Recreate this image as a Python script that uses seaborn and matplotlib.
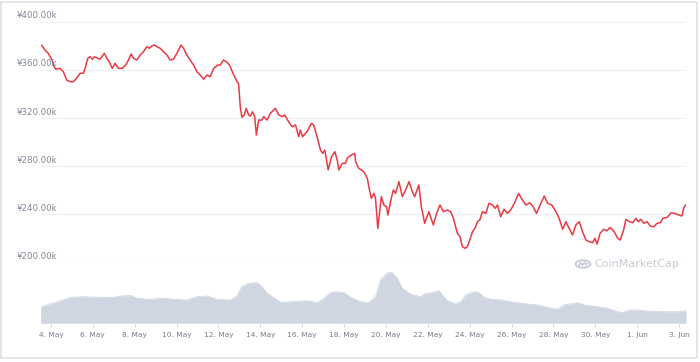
import pandas as pd
import seaborn as sns
import matplotlib.pyplot as plt
from matplotlib import transforms
from matplotlib.patches import Circle, Rectangle
from matplotlib.lines import Line2D

# price series: days after 4 May 2021 and price in thousand yen
price_day = [-0.45, -0.29, -0.13, 0.0, 0.06, 0.11, 0.23, 0.43, 0.59, 0.75, 0.91, 1.07,
             1.15, 1.28, 1.39, 1.55, 1.63, 1.76, 1.87, 1.98, 2.07, 2.23, 2.34, 2.43,
             2.55, 2.67, 2.78, 2.93, 3.06, 3.22, 3.41, 3.57, 3.70, 3.83, 3.94, 4.10,
             4.26, 4.42, 4.58, 4.70, 4.82, 4.93, 5.06, 5.22, 5.37, 5.54, 5.69, 5.85,
             6.01, 6.14, 6.21, 6.33, 6.49, 6.65, 6.81, 6.97, 7.13, 7.29, 7.45, 7.61,
             7.77, 7.96, 8.09, 8.24, 8.37, 8.53, 8.69, 8.89, 8.96, 9.04, 9.12, 9.23,
             9.33, 9.44, 9.52, 9.63, 9.73, 9.81, 9.92, 10.08, 10.16, 10.32, 10.48,
             10.72, 10.88, 11.04, 11.16, 11.35, 11.52, 11.68, 11.83, 11.91, 12.02,
             12.23, 12.44, 12.55, 12.71, 12.87, 12.98, 13.08, 13.24, 13.40, 13.56,
             13.67, 13.75, 13.91, 14.07, 14.15, 14.35, 14.51, 14.55, 14.70, 14.94,
             15.11, 15.18, 15.30, 15.42, 15.50, 15.61, 15.78, 15.90, 16.03, 16.09,
             16.22, 16.35, 16.46, 16.62, 16.78, 16.94, 17.10, 17.26, 17.37, 17.57,
             17.69, 17.85, 18.05, 18.26, 18.42, 18.58, 18.74, 18.93, 19.09, 19.22,
             19.41, 19.54, 19.65, 19.78, 19.89, 20.0, 20.13, 20.25, 20.37, 20.48,
             20.61, 20.77, 20.92, 21.09, 21.21, 21.33, 21.48, 21.64, 21.80, 21.96,
             22.17, 22.33, 22.52, 22.68, 22.87, 23.03, 23.19, 23.40, 23.56, 23.72,
             23.92, 24.12, 24.27, 24.44, 24.59, 24.75, 24.91, 25.07, 25.23, 25.39,
             25.55, 25.71, 25.87, 25.98, 26.08, 26.23, 26.40, 26.56, 26.71, 26.90,
             27.07, 27.19, 27.35, 27.46, 27.62, 27.79, 27.94, 28.05, 28.18, 28.31,
             28.47, 28.63, 28.79, 28.95, 29.11, 29.22, 29.43, 29.62, 29.78, 30.01,
             30.13, 30.23, 30.38]
price_k = [380.5, 376.4, 373.6, 369.5, 368.1, 363.9, 360.4, 361.2, 358.4, 351.5, 350.1, 350.1,
           351.5, 354.2, 357.1, 357.1, 361.2, 369.5, 370.8, 368.7, 370.8, 369.5, 368.7, 370.8,
           373.6, 369.5, 366.7, 361.2, 365.3, 361.2, 361.2, 363.9, 368.1, 373.1, 369.5, 368.1,
           372.2, 375.0, 379.1, 377.8, 379.7, 380.5, 379.1, 377.8, 375.0, 372.2, 368.1, 368.7,
           373.6, 377.8, 380.5, 377.8, 372.2, 368.1, 363.9, 358.4, 355.6, 352.1, 355.6, 354.2,
           361.2, 363.9, 363.9, 368.1, 366.7, 363.9, 357.1, 350.1, 348.8, 329.4, 320.6, 322.5,
           328.0, 322.5, 321.6, 325.2, 321.1, 305.9, 318.3, 318.3, 321.1, 318.3, 323.9,
           328.0, 322.5, 321.1, 322.5, 316.9, 312.8, 314.2, 304.5, 310.0, 304.5,
           308.6, 315.6, 314.2, 304.5, 293.4, 290.7, 293.4, 276.9, 287.9, 292.0,
           285.2, 276.9, 282.4, 282.4, 286.6, 289.3, 290.7, 283.7, 278.3, 275.5,
           270.0, 263.0, 253.4, 257.5, 253.4, 228.5, 254.7, 247.8, 246.4, 239.5,
           250.6, 260.3, 257.5, 267.2, 254.7, 260.3, 267.2, 258.9, 254.7, 264.4,
           246.4, 232.7, 242.3, 231.3, 240.9, 247.8, 242.3, 243.7, 242.3, 236.8,
           224.4, 221.5, 213.3, 211.9, 213.3, 218.8, 225.7, 228.5, 234.0, 235.4,
           242.3, 240.9, 249.3, 247.8, 245.1, 247.8, 238.1, 244.3, 240.9, 243.7,
           250.6, 257.5, 252.0, 247.8, 249.7, 246.4, 240.9, 249.3, 255.3, 249.3,
           247.8, 242.3, 236.8, 227.7, 234.0, 228.5, 223.0, 231.3, 234.0, 225.7,
           218.8, 217.4, 216.6, 220.2, 215.5, 224.4, 227.7, 226.5, 229.3, 225.7,
           220.2, 218.8, 227.1, 236.0, 234.0, 233.2, 236.8, 234.0, 236.0, 232.7,
           234.0, 230.4, 229.8, 232.7, 233.2, 236.8, 237.6, 241.4, 240.9, 239.5,
           238.7, 245.9, 249.3]

# volume (relative units)
vol_day = [-0.49, -0.05, 0.35, 0.91, 1.55, 2.34, 2.98, 3.46, 3.86, 4.10, 4.74, 5.37,
           5.85, 6.49, 6.97, 7.45, 7.93, 8.56, 8.89, 9.12, 9.44, 9.84, 10.08, 10.32,
           10.80, 10.96, 11.59, 12.23, 12.71, 13.03, 13.35, 13.67, 13.99, 14.31, 14.78,
           15.18, 15.50, 15.74, 16.06, 16.30, 16.54, 16.78, 17.18, 17.66, 17.89, 18.22,
           18.53, 18.69, 18.93, 19.33, 19.57, 19.81, 20.21, 20.45, 20.68, 21.00, 21.48,
           21.96, 22.44, 23.24, 23.88, 24.20, 24.51, 25.15, 25.47, 26.11, 26.59, 27.07,
           27.31, 27.62, 28.02, 28.50, 29.14, 29.78, 30.10, 30.33]
volume = [16.0, 19.3, 21.6, 26.0, 26.6, 26.0, 26.0, 27.6, 27.6, 25.0, 24.0, 25.0,
          24.0, 23.3, 26.6, 27.3, 24.0, 23.3, 27.3, 36.6, 40.0, 40.6, 36.6, 30.0,
          23.3, 21.0, 21.6, 22.6, 20.6, 25.0, 30.6, 31.6, 30.6, 26.0, 21.6,
          20.6, 26.6, 43.3, 50.6, 50.6, 45.0, 35.0, 29.0, 26.6, 30.0, 30.6,
          32.6, 28.3, 22.6, 19.3, 21.6, 28.3, 31.6, 30.6, 26.0, 24.0, 23.3,
          21.6, 20.0, 18.3, 15.0, 14.0, 18.3, 20.6, 18.3, 16.6, 15.0, 11.6,
          10.6, 13.3, 13.3, 12.3, 11.6, 11.6, 11.6, 12.6]

y_ticks = [200, 240, 280, 320, 360, 400]

start = pd.Timestamp("2021-05-04")
price_time = start + pd.to_timedelta(price_day, unit="D")
vol_time = start + pd.to_timedelta(vol_day, unit="D")
x_ticks = pd.date_range("2021-05-04", "2021-06-03", freq="2D")

sns.set_style("white")
plt.rcParams["font.family"] = ["DejaVu Sans"]

W, H = 700, 362
fig = plt.figure(figsize=(7, 3.62), dpi=100)
left, right = 40.7, 686
ax = fig.add_axes([left / W, 1 - 262.7 / H, (right - left) / W, (262.7 - 21.5) / H])
axv = fig.add_axes([left / W, 1 - 323.3 / H, (right - left) / W, 60.6 / H])

xlim = (vol_time[0], vol_time[-1])

# price line
sns.lineplot(x=price_time, y=price_k, ax=ax, color="#ea3943", linewidth=1.1)
ax.set_xlim(*xlim)
ax.set_ylim(200, 400)
ax.set_yticks(y_ticks)
ax.yaxis.grid(True, color="#eef0f3", linewidth=0.8)
ax.set_axisbelow(True)
ax.tick_params(left=False, bottom=False, labelleft=False, labelbottom=False)
ax.set_xlabel("")
ax.set_ylabel("")
for s in ax.spines.values():
    s.set_visible(False)

lab_tr = transforms.blended_transform_factory(fig.transFigure, ax.transData)
for v in y_ticks:
    ax.annotate(f"¥{v:.2f}k", xy=(17 / W, v), xycoords=lab_tr, xytext=(0, 1),
                textcoords="offset points", va="bottom", ha="left",
                fontsize=6.2, color="#7f8795", annotation_clip=False)

# volume area
sns.lineplot(x=vol_time, y=volume, ax=axv, color="#cfd5e1", linewidth=0.6)
axv.fill_between(vol_time, volume, color="#cfd5e1", linewidth=0)
axv.set_xlim(*xlim)
axv.set_ylim(0, 60.6)
axv.set_xticks(x_ticks)
axv.set_xticklabels([f"{d.day}. {d.strftime('%b')}" for d in x_ticks])
axv.tick_params(axis="x", bottom=True, length=3, width=0.6, color="#ccd1da",
                pad=3, labelsize=5.3, labelcolor="#737b8a")
axv.tick_params(left=False, labelleft=False)
axv.set_xlabel("")
axv.set_ylabel("")
for k, s in axv.spines.items():
    s.set_visible(k == "bottom")
axv.spines["bottom"].set_color("#dde1e8")
axv.spines["bottom"].set_linewidth(0.6)
axv.patch.set_alpha(0)

# watermark
wm = "#c6cbd4"
cx, cy = 583 / W, 1 - 264 / H
fig.patches.append(Circle((cx, cy), 0.0105, transform=fig.transFigure,
                          fill=False, edgecolor=wm, linewidth=1.3))
wave_x = [-4.5, -2.5, -0.5, 1.5, 3.0, 4.5]
wave_y = [-2.5, 1.5, -1.5, 2.0, -0.5, 0.5]
fig.lines.append(Line2D([cx + u / W for u in wave_x], [cy + v / H for v in wave_y],
                        transform=fig.transFigure, color=wm, linewidth=1.2))
fig.text(594 / W, cy, "CoinMarketCap", fontsize=8, color=wm,
         va="center", ha="left")

# screenshot frame
fig.patches.append(Rectangle((1 / W, 1 - 358 / H), 696 / W, 356 / H, transform=fig.transFigure,
                             fill=False, edgecolor="#e2e2e2", linewidth=1.2))

fig.savefig("out.png", dpi=100)
